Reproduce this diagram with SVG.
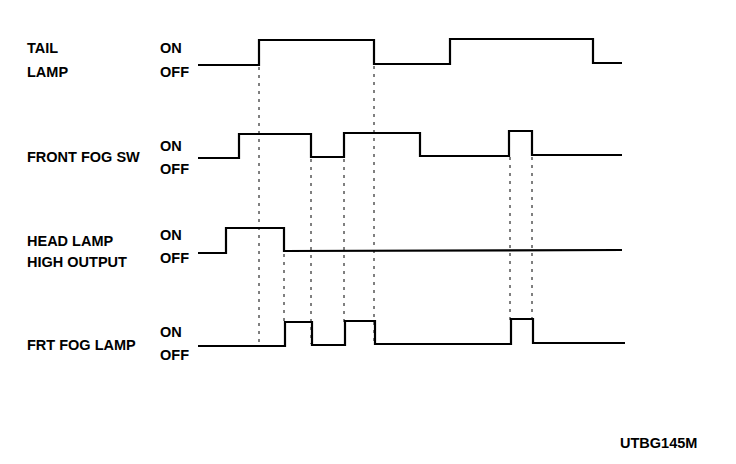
<svg xmlns="http://www.w3.org/2000/svg" width="736" height="464" viewBox="0 0 736 464">
<style>
text{font-family:"Liberation Sans",Arial,sans-serif;font-size:14.5px;font-weight:bold;fill:#000}
.sig{fill:none;stroke:#000;stroke-width:2.2;stroke-linejoin:miter}
.dot{fill:none;stroke:#000;stroke-width:1;stroke-dasharray:3 5}
</style>
<rect width="736" height="464" fill="#fff"/>
<g id="tail-lamp">
<text x="27" y="53">TAIL</text>
<text x="27" y="77">LAMP</text>
<text x="160" y="53">ON</text>
<text x="160" y="77">OFF</text>
</g>
<g id="front-fog-sw">
<text x="27" y="162">FRONT FOG SW</text>
<text x="160" y="151">ON</text>
<text x="160" y="174">OFF</text>
</g>
<g id="head-lamp">
<text x="27" y="246">HEAD LAMP</text>
<text x="27" y="267">HIGH OUTPUT</text>
<text x="160" y="240">ON</text>
<text x="160" y="263">OFF</text>
</g>
<g id="frt-fog-lamp">
<text x="27" y="350">FRT FOG LAMP</text>
<text x="160" y="337">ON</text>
<text x="160" y="360">OFF</text>
</g>
<g id="signals">
<polyline class="sig" points="198,65 259,65 259,40 374,40 374,64 450,64 450,39 593,39 593,63 622,63"/>
<polyline class="sig" points="198,158 239,158 239,134 311,134 311,157 344,157 344,133 420,133 420,156 509,156 509,131 532,131 532,155 622,155"/>
<polyline class="sig" points="198,253 226,253 226,228 284,228 284,251 622,250"/>
<polyline class="sig" points="198,346 285,346 285,322 312,322 312,345 345,345 345,321 375,321 375,344 511,344 511,319 533,319 533,343 625,343"/>
</g>
<g id="connectors">
<line class="dot" x1="259" y1="67" x2="259" y2="345"/>
<line class="dot" x1="374" y1="66" x2="374" y2="343"/>
<line class="dot" x1="311" y1="159" x2="311" y2="344"/>
<line class="dot" x1="344" y1="159" x2="344" y2="322"/>
<line class="dot" x1="284" y1="254" x2="284" y2="322"/>
<line class="dot" x1="510" y1="157" x2="510" y2="320"/>
<line class="dot" x1="532" y1="157" x2="532" y2="320"/>
</g>
<g id="caption">
<text x="620" y="448">UTBG145M</text>
</g>
</svg>
